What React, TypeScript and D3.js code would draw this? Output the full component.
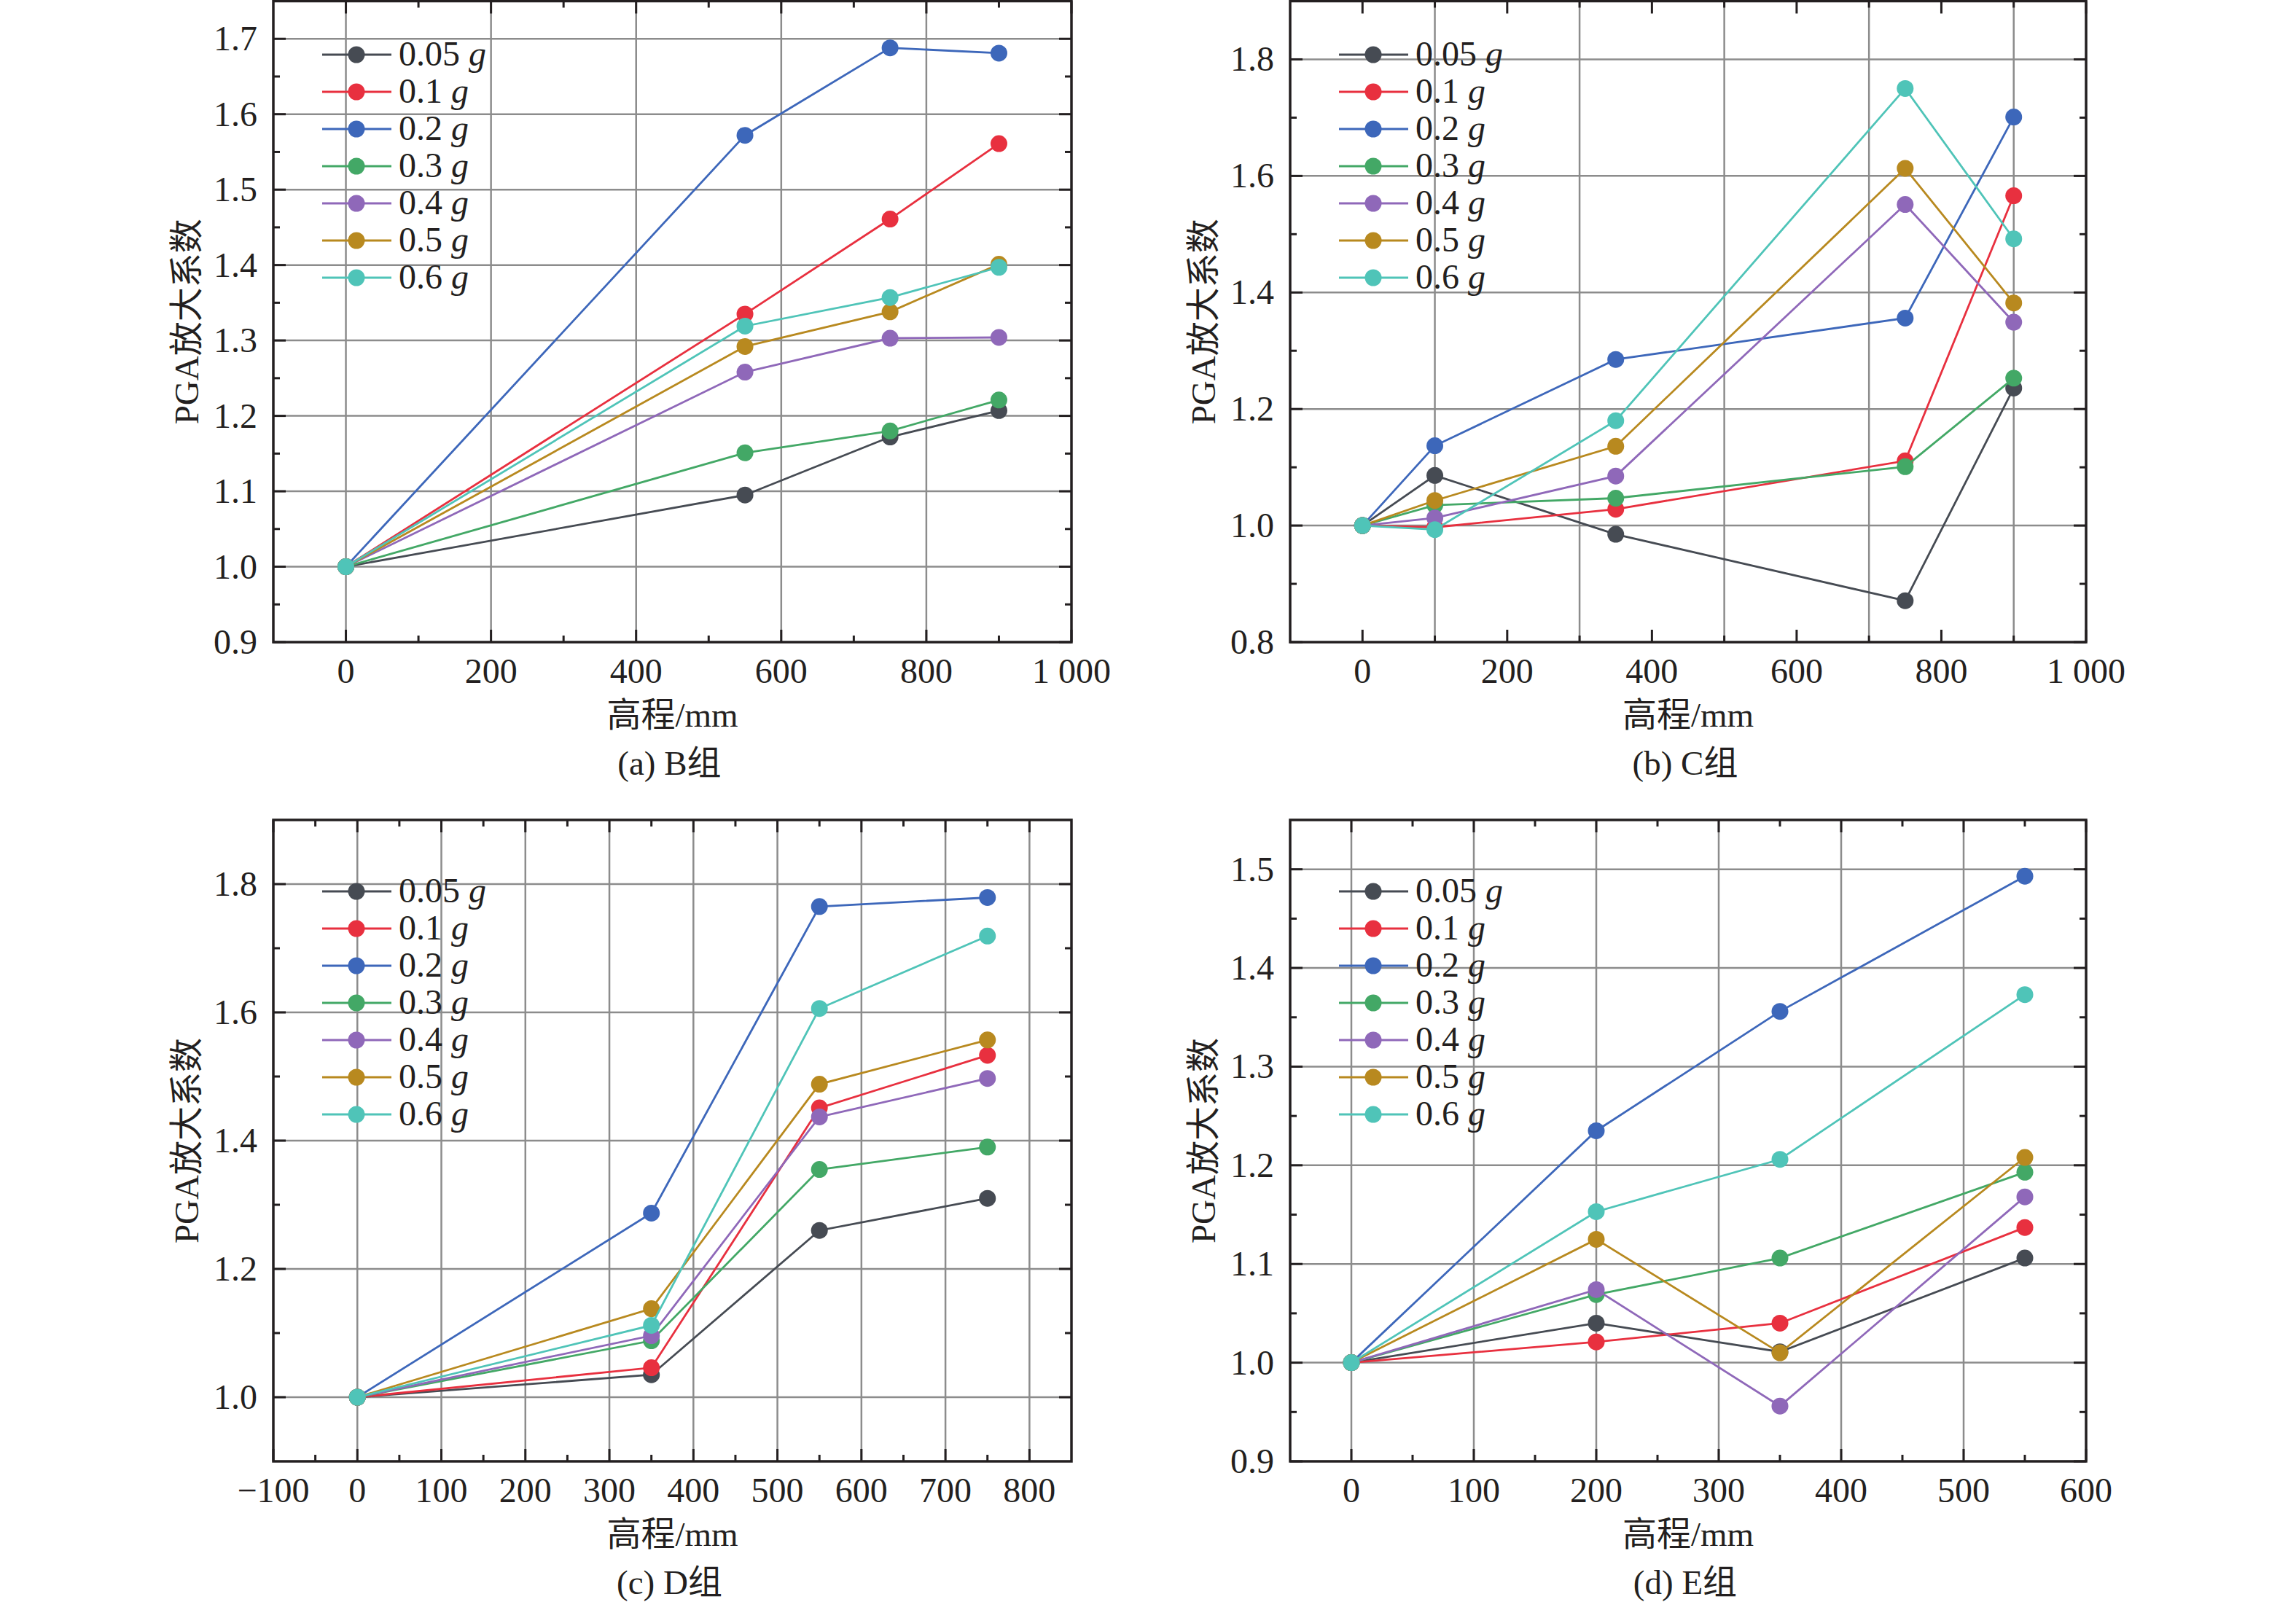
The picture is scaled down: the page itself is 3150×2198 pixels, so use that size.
import React from 'react';
import * as d3 from 'd3';

// series: peak ground acceleration levels
const seriesLabels = ['0.05', '0.1', '0.2', '0.3', '0.4', '0.5', '0.6'];

// (a) B组
const heightB = [0, 550, 750, 900];
const pgaB = [
  [1.0, 1.095, 1.172, 1.207],
  [1.0, 1.335, 1.461, 1.561],
  [1.0, 1.572, 1.688, 1.681],
  [1.0, 1.151, 1.18, 1.221],
  [1.0, 1.258, 1.303, 1.304],
  [1.0, 1.292, 1.338, 1.401],
  [1.0, 1.319, 1.357, 1.397],
];

// (b) C组
const heightC = [0, 100, 350, 750, 900];
const pgaC = [
  [1.0, 1.086, 0.985, 0.871, 1.236],
  [1.0, 0.997, 1.028, 1.111, 1.566],
  [1.0, 1.137, 1.285, 1.356, 1.701],
  [1.0, 1.035, 1.047, 1.101, 1.253],
  [1.0, 1.013, 1.085, 1.551, 1.349],
  [1.0, 1.043, 1.136, 1.613, 1.382],
  [1.0, 0.993, 1.18, 1.75, 1.492],
];

// (c) D组
const heightD = [0, 350, 550, 750];
const pgaD = [
  [1.0, 1.035, 1.26, 1.31],
  [1.0, 1.046, 1.451, 1.533],
  [1.0, 1.287, 1.765, 1.779],
  [1.0, 1.088, 1.355, 1.39],
  [1.0, 1.096, 1.437, 1.497],
  [1.0, 1.138, 1.488, 1.557],
  [1.0, 1.112, 1.606, 1.719],
];

// (d) E组
const heightE = [0, 200, 350, 550];
const pgaE = [
  [1.0, 1.04, 1.011, 1.106],
  [1.0, 1.021, 1.04, 1.137],
  [1.0, 1.235, 1.356, 1.493],
  [1.0, 1.069, 1.106, 1.193],
  [1.0, 1.074, 0.956, 1.168],
  [1.0, 1.125, 1.01, 1.208],
  [1.0, 1.153, 1.206, 1.373],
];

// tick values
const xMajorBC = [0, 200, 400, 600, 800, 1000];
const xMinorBC = [100, 300, 500, 700, 900];
const xGridB = [0, 200, 400, 600, 800];
const xGridC = [100, 300, 500, 700, 900];
const yMajorB = [0.9, 1.0, 1.1, 1.2, 1.3, 1.4, 1.5, 1.6, 1.7];
const yMinorB = [0.95, 1.05, 1.15, 1.25, 1.35, 1.45, 1.55, 1.65];
const yGridB = [1.0, 1.1, 1.2, 1.3, 1.4, 1.5, 1.6, 1.7];
const yMajorC = [0.8, 1.0, 1.2, 1.4, 1.6, 1.8];
const yMinorC = [0.9, 1.1, 1.3, 1.5, 1.7];
const yGridC = [1.0, 1.2, 1.4, 1.6, 1.8];

const xMajorD = [-100, 0, 100, 200, 300, 400, 500, 600, 700, 800];
const xMinorD = [-50, 50, 150, 250, 350, 450, 550, 650, 750];
const xGridD = [0, 100, 200, 300, 400, 500, 600, 700, 800];
const yMajorD = [1.0, 1.2, 1.4, 1.6, 1.8];
const yMinorD = [1.1, 1.3, 1.5, 1.7];
const yGridD = [1.0, 1.2, 1.4, 1.6, 1.8];

const xMajorE = [0, 100, 200, 300, 400, 500, 600];
const xMinorE = [50, 150, 250, 350, 450, 550];
const xGridE = [0, 100, 200, 300, 400, 500];
const yMajorE = [0.9, 1.0, 1.1, 1.2, 1.3, 1.4, 1.5];
const yMinorE = [0.95, 1.05, 1.15, 1.25, 1.35, 1.45];
const yGridE = [1.0, 1.1, 1.2, 1.3, 1.4, 1.5];

const colors = ['#464b53', '#e8303f', '#3d67ba', '#43a866', '#8f68b9', '#b8891f', '#4fc4b8'];
const font = "'Liberation Serif', 'Times New Roman', 'Noto Sans CJK SC', serif";
const gridColor = '#8c8c8c';
const ink = '#231f20';

const fmtX = (v: number) => {
  if (v < 0) return '\u2212' + Math.abs(v);
  if (v >= 1000) return '1 000';
  return String(v);
};

interface PanelProps {
  left: number;
  right: number;
  top: number;
  bottom: number;
  xDomain: [number, number];
  yDomain: [number, number];
  heights: number[];
  values: number[][];
  xMajor: number[];
  xMinor: number[];
  xGrid: number[];
  yMajor: number[];
  yMinor: number[];
  yGrid: number[];
  legendTop: number;
  caption: string;
}

const Panel: React.FC<PanelProps> = (p) => {
  const x = d3.scaleLinear().domain(p.xDomain).range([p.left, p.right]);
  const y = d3.scaleLinear().domain(p.yDomain).range([p.bottom, p.top]);
  const line = d3.line<number>()
    .x((_, i) => x(p.heights[i]))
    .y(d => y(d));
  const majorLen = 17;
  const minorLen = 9;
  const cx = (p.left + p.right) / 2;
  const cy = (p.top + p.bottom) / 2;
  const r = 11.5;
  const lw = 2.8;

  return (
    <g>
      {/* grid */}
      {p.xGrid.map(v => (
        <line key={'gx' + v} x1={x(v)} x2={x(v)} y1={p.top} y2={p.bottom} stroke={gridColor} strokeWidth={2.5} />
      ))}
      {p.yGrid.map(v => (
        <line key={'gy' + v} x1={p.left} x2={p.right} y1={y(v)} y2={y(v)} stroke={gridColor} strokeWidth={2.5} />
      ))}

      {/* ticks, mirrored on all sides, pointing inward */}
      {p.xMajor.map(v => (
        <g key={'xm' + v}>
          <line x1={x(v)} x2={x(v)} y1={p.bottom} y2={p.bottom - majorLen} stroke={ink} strokeWidth={3} />
          <line x1={x(v)} x2={x(v)} y1={p.top} y2={p.top + majorLen} stroke={ink} strokeWidth={3} />
        </g>
      ))}
      {p.xMinor.map(v => (
        <g key={'xn' + v}>
          <line x1={x(v)} x2={x(v)} y1={p.bottom} y2={p.bottom - minorLen} stroke={ink} strokeWidth={3} />
          <line x1={x(v)} x2={x(v)} y1={p.top} y2={p.top + minorLen} stroke={ink} strokeWidth={3} />
        </g>
      ))}
      {p.yMajor.map(v => (
        <g key={'ym' + v}>
          <line x1={p.left} x2={p.left + majorLen} y1={y(v)} y2={y(v)} stroke={ink} strokeWidth={3} />
          <line x1={p.right} x2={p.right - majorLen} y1={y(v)} y2={y(v)} stroke={ink} strokeWidth={3} />
        </g>
      ))}
      {p.yMinor.map(v => (
        <g key={'yn' + v}>
          <line x1={p.left} x2={p.left + minorLen} y1={y(v)} y2={y(v)} stroke={ink} strokeWidth={3} />
          <line x1={p.right} x2={p.right - minorLen} y1={y(v)} y2={y(v)} stroke={ink} strokeWidth={3} />
        </g>
      ))}

      {/* frame */}
      <rect x={p.left} y={p.top} width={p.right - p.left} height={p.bottom - p.top} fill="none" stroke={ink} strokeWidth={3.5} />

      {/* tick labels */}
      {p.xMajor.map(v => (
        <text key={'xl' + v} x={x(v)} y={p.bottom + 56} textAnchor="middle" fontSize={48} fontFamily={font} fill={ink}>
          {fmtX(v)}
        </text>
      ))}
      {p.yMajor.map(v => (
        <text key={'yl' + v} x={p.left - 22} y={y(v) + 16} textAnchor="end" fontSize={48} fontFamily={font} fill={ink}>
          {v.toFixed(1)}
        </text>
      ))}

      {/* axis titles */}
      <text x={cx} y={p.bottom + 116} textAnchor="middle" fontSize={47} fontFamily={font} fill={ink}>高程/mm</text>
      <text transform={`translate(${p.left - 103},${cy}) rotate(-90)`} textAnchor="middle" fontSize={47} fontFamily={font} fill={ink}>PGA放大系数</text>
      <text x={cx - 4} y={p.bottom + 182} textAnchor="middle" fontSize={47} fontFamily={font} fill={ink}>{p.caption}</text>

      {/* series */}
      {p.values.map((vals, s) => (
        <g key={'s' + s}>
          <path d={line(vals) ?? ''} fill="none" stroke={colors[s]} strokeWidth={lw} />
          {vals.map((v, i) => (
            <circle key={i} cx={x(p.heights[i])} cy={y(v)} r={r} fill={colors[s]} />
          ))}
        </g>
      ))}

      {/* legend */}
      {seriesLabels.map((lab, s) => {
        const ry = p.legendTop + s * 51;
        return (
          <g key={'lg' + s}>
            <line x1={p.left + 67} x2={p.left + 162} y1={ry} y2={ry} stroke={colors[s]} strokeWidth={lw} />
            <circle cx={p.left + 114} cy={ry} r={r} fill={colors[s]} />
            <text x={p.left + 172} y={ry + 15} fontSize={48} fontFamily={font} fill={ink}>
              {lab + ' '}
              <tspan fontStyle="italic">g</tspan>
            </text>
          </g>
        );
      })}
    </g>
  );
};

export default function App() {
  return (
    <svg width={3150} height={2198} style={{ position: 'absolute', left: 0, top: 0, background: '#fff' }}>
      <rect x={0} y={0} width={3150} height={2198} fill="#fff" />
      <Panel left={375} right={1470} top={1.5} bottom={881} xDomain={[-100, 1000]} yDomain={[0.9, 1.75]}
        heights={heightB} values={pgaB} xMajor={xMajorBC} xMinor={xMinorBC} xGrid={xGridB}
        yMajor={yMajorB} yMinor={yMinorB} yGrid={yGridB} legendTop={75} caption="(a) B组" />
      <Panel left={1770} right={2862} top={1.5} bottom={881} xDomain={[-100, 1000]} yDomain={[0.8, 1.9]}
        heights={heightC} values={pgaC} xMajor={xMajorBC} xMinor={xMinorBC} xGrid={xGridC}
        yMajor={yMajorC} yMinor={yMinorC} yGrid={yGridC} legendTop={75} caption="(b) C组" />
      <Panel left={375} right={1470} top={1125} bottom={2005} xDomain={[-100, 850]} yDomain={[0.9, 1.9]}
        heights={heightD} values={pgaD} xMajor={xMajorD} xMinor={xMinorD} xGrid={xGridD}
        yMajor={yMajorD} yMinor={yMinorD} yGrid={yGridD} legendTop={1223} caption="(c) D组" />
      <Panel left={1770} right={2862} top={1125} bottom={2005} xDomain={[-50, 600]} yDomain={[0.9, 1.55]}
        heights={heightE} values={pgaE} xMajor={xMajorE} xMinor={xMinorE} xGrid={xGridE}
        yMajor={yMajorE} yMinor={yMinorE} yGrid={yGridE} legendTop={1223} caption="(d) E组" />
    </svg>
  );
}
